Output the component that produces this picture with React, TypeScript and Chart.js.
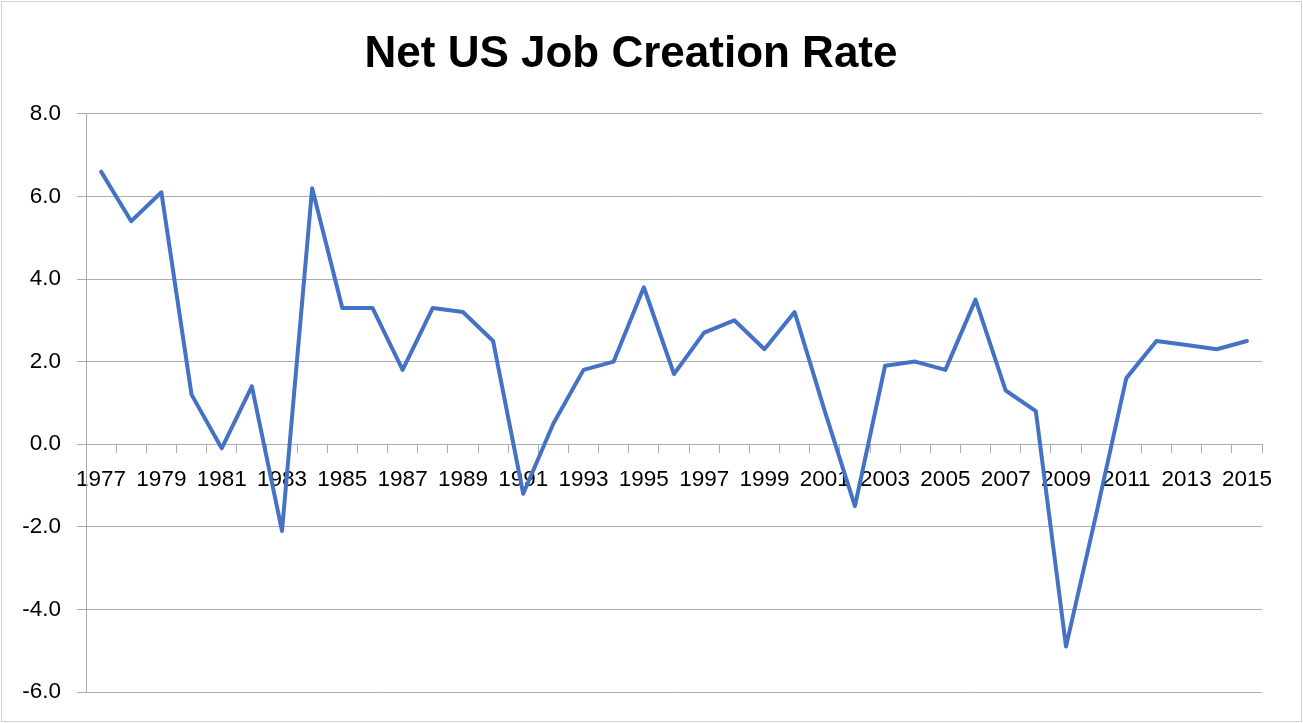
import React, { useEffect, useRef } from "react";
import { Chart, registerables } from "chart.js";

Chart.register(...registerables);

const years: string[] = [
  "1977", "1978", "1979", "1980", "1981", "1982", "1983", "1984", "1985", "1986",
  "1987", "1988", "1989", "1990", "1991", "1992", "1993", "1994", "1995", "1996",
  "1997", "1998", "1999", "2000", "2001", "2002", "2003", "2004", "2005", "2006",
  "2007", "2008", "2009", "2010", "2011", "2012", "2013", "2014", "2015",
];

const netJobCreationRate: number[] = [
  6.6, 5.4, 6.1, 1.2, -0.1, 1.4, -2.1, 6.2, 3.3, 3.3,
  1.8, 3.3, 3.2, 2.5, -1.2, 0.5, 1.8, 2.0, 3.8, 1.7,
  2.7, 3.0, 2.3, 3.2, 0.8, -1.5, 1.9, 2.0, 1.8, 3.5,
  1.3, 0.8, -4.9, -1.7, 1.6, 2.5, 2.4, 2.3, 2.5,
];

const yMin = -6;
const yMax = 8;
const yStep = 2;

const titleText = "Net US Job Creation Rate";
const FONT = "'Liberation Sans', Arial, sans-serif";
const GRID = "#acacac";

export default function App() {
  const canvasRef = useRef<HTMLCanvasElement | null>(null);

  useEffect(() => {
    document.body.style.margin = "0";
    const canvas = canvasRef.current;
    if (!canvas) return;
    const chart = new Chart(canvas, {
      type: "line",
      data: {
        labels: years,
        datasets: [
          {
            label: "Net US Job Creation Rate",
            data: netJobCreationRate,
            borderColor: "#4472C4",
            backgroundColor: "#4472C4",
            borderWidth: 4,
            pointRadius: 0,
            pointHoverRadius: 0,
            tension: 0,
            fill: false,
            borderJoinStyle: "round",
            borderCapStyle: "round",
          },
        ],
      },
      options: {
        responsive: false,
        animation: false,
        devicePixelRatio: 1,
        layout: { padding: { top: 0, left: 0, right: 41, bottom: 31 } },
        plugins: {
          legend: { display: false },
          tooltip: { enabled: false },
          title: {
            display: true,
            text: titleText,
            color: "#000000",
            font: { family: FONT, size: 44, weight: "bold" },
            padding: { top: 28, bottom: 33 },
          },
        },
        scales: {
          x: {
            type: "category",
            offset: true,
            position: { y: 0 } as any,
            grid: {
              offset: true,
              drawOnChartArea: false,
              drawTicks: true,
              tickLength: 8,
              color: GRID,
              lineWidth: 1,
            },
            border: { display: true, color: GRID, width: 1 },
            ticks: {
              autoSkip: false,
              maxRotation: 0,
              minRotation: 0,
              color: "#000000",
              padding: 14,
              font: { family: FONT, size: 22.5 },
              callback: (_v: any, i: number) => (i % 2 === 0 ? years[i] : ""),
            },
          },
          y: {
            min: yMin,
            max: yMax,
            grid: {
              color: GRID,
              lineWidth: 1,
              drawTicks: true,
              tickLength: 9,
            },
            border: { display: true, color: GRID, width: 1 },
            ticks: {
              stepSize: yStep,
              color: "#000000",
              padding: 16,
              font: { family: FONT, size: 22.5 },
              callback: (v: any) => Number(v).toFixed(1),
            },
            afterFit: (scale: any) => {
              scale.width = 86;
            },
          },
        },
      },
    });
    return () => chart.destroy();
  }, []);

  return (
    <div style={{ position: "absolute", left: 0, top: 0, width: 1303, height: 723, background: "#fff" }}>
      <canvas ref={canvasRef} width={1303} height={723} style={{ display: "block" }} />
      <div
        style={{
          position: "absolute",
          left: 1,
          top: 1,
          width: 1301,
          height: 721,
          border: "1px solid #d0d0d0",
          boxSizing: "border-box",
          pointerEvents: "none",
        }}
      />
    </div>
  );
}
